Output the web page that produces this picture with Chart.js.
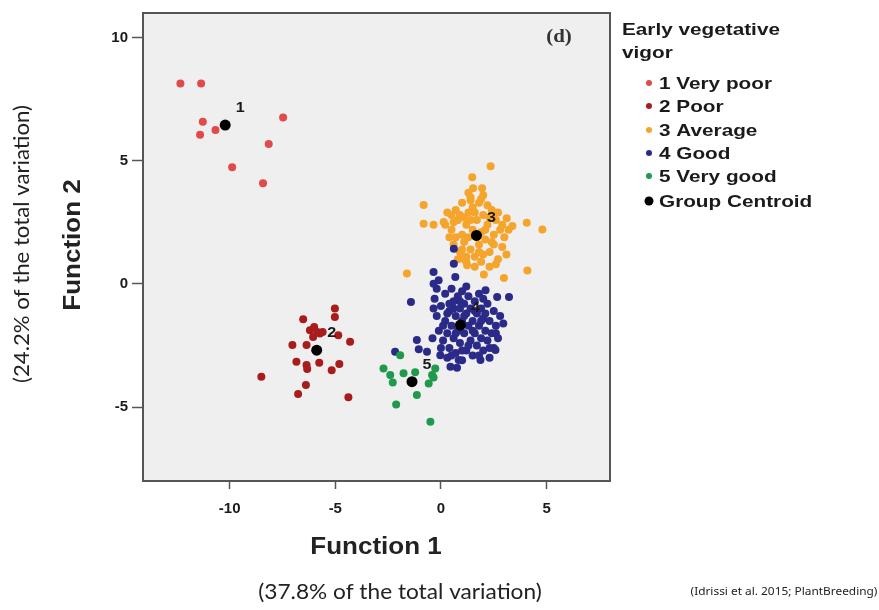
<!DOCTYPE html>
<html>
<head>
<meta charset="utf-8">
<script src="https://cdn.jsdelivr.net/npm/chart.js@4.4.1/dist/chart.umd.min.js"></script>
<style>
  html, body { margin: 0; padding: 0; background: #fff; }
  #wrap { position: relative; width: 879px; height: 610px; }
</style>
</head>
<body>
<div id="wrap"><canvas id="myChart" width="879" height="610"></canvas></div>
<script>
// Datos (Function 1 = x, Function 2 = y)
const xTicks = [-10, -5, 0, 5]
const yTicks = [-5, 0, 5, 10]

const grupos = ["1 Very poor", "2 Poor", "3 Average", "4 Good", "5 Very good"]
const colores = ["#e04a4a", "#a81c1c", "#f5a42c", "#2b2a88", "#1f9a4c"]

// 1 Very poor
const muyPobreX = [-12.33, -11.35, -11.27, -11.40, -10.67, -7.47, -8.15, -9.88, -8.42]
const muyPobreY = [8.14, 8.14, 6.59, 6.06, 6.25, 6.76, 5.68, 4.74, 4.09]

// 2 Poor
const pobreX = [-8.50, -7.03, -6.52, -5.02, -5.02, -6.20, -6.00, -5.73, -6.36, -4.86, -4.30, -6.84, -6.36, -6.33, -5.76, -5.17, -4.81, -6.39, -6.76, -4.38, -5.85, -6.05, -5.60]
const pobreY = [-3.77, -2.48, -1.43, -1.00, -1.34, -1.88, -1.75, -2.01, -2.48, -2.08, -2.35, -3.16, -3.29, -3.45, -3.20, -3.50, -3.25, -4.10, -4.47, -4.60, -1.95, -2.15, -1.95]

// 3 Average
const promedioX = [0.3, 0.5, 0.6, 0.7, 0.8, 0.9, 1.0, 1.0, 1.1, 1.2, 1.2, 1.3, 1.4, 1.5, 1.5, 1.6, 1.7, 1.8, 1.8, 1.9, 2.0, 2.0, 2.1, 2.2, 2.3, 2.4, 2.5, 2.5, 2.6, 2.7, 2.8, 2.9, 3.0, 3.1, 0.4, 0.9, 1.3, 2.2, 1.6, 0.8, 3.2, 2.6, 1.9, 1.1, 0.2, 2.3, 1.4,
  0.6, 1.0, 1.4, 1.7, 2.1, 2.4, 1.6, 2.0, 0.7, 2.7, 1.2, 2.9, 1.8, 0.5, 2.3, 1.3,
  2.35, 1.48, 1.52, 1.95, 1.40, 1.90, -0.82, -0.82, -0.35, 0.13, 3.11, 3.38, 4.06, 4.80, -1.61, 4.09, 2.03, 2.98, 1.24, 1.08]
const promedioY = [2.9, 2.2, 1.6, 3.0, 2.6, 1.3, 2.0, 3.3, 1.7, 2.4, 0.9, 2.9, 1.4, 2.2, 3.1, 1.1, 2.6, 1.6, 3.3, 2.1, 1.2, 2.8, 1.8, 2.4, 1.3, 3.0, 2.0, 1.6, 2.6, 1.0, 2.2, 1.5, 1.9, 1.2, 1.9, 2.8, 1.9, 3.2, 0.7, 1.0, 2.2, 0.8, 0.9, 2.7, 2.4, 2.7, 3.4,
  2.5, 1.4, 2.6, 1.9, 2.2, 1.7, 2.9, 3.6, 1.9, 2.9, 1.1, 2.4, 1.3, 2.8, 0.7, 3.7,
  4.78, 4.33, 3.89, 3.89, 3.52, 3.45, 3.21, 2.44, 2.40, 2.51, 2.67, 2.35, 2.48, 2.21, 0.42, 0.55, 0.38, 0.24, 0.76, 1.02]

// 4 Good
const buenoX = [-0.3, -0.2, -0.1, 0.0, 0.1, 0.2, 0.2, 0.3, 0.4, 0.4, 0.5, 0.5, 0.6, 0.6, 0.7, 0.7, 0.8, 0.8, 0.9, 0.9, 1.0, 1.0, 1.1, 1.1, 1.2, 1.2, 1.3, 1.3, 1.4, 1.4, 1.5, 1.5, 1.6, 1.6, 1.7, 1.7, 1.8, 1.8, 1.9, 1.9, 2.0, 2.0, 2.1, 2.2, 2.2, 2.3, 2.4, 2.5, 2.5, 2.6, 2.7, 2.8, 0.3, 0.0, -0.4, 1.0, 2.3, 0.6, 1.2, -0.2,
  0.3, 0.7, 1.1, 1.5, 1.9, 2.3, 0.5, 1.3, 2.1, 0.9, 1.6, 2.6, 0.1, 1.0, 1.8, 2.0, 0.4,
  -1.42, -0.35, 0.68, 0.61, 0.61, -0.11, 2.66, 3.22, 2.11, -1.14, -2.17, -0.66, -0.03, 0.84, 0.45, 0.76, 1.87, 2.58, 2.95, -0.35, -0.35, -1.05]
const buenoY = [-0.6, -1.3, -1.9, -0.9, -2.3, -0.4, -1.5, -2.0, -1.1, -2.6, -0.2, -1.7, -0.7, -2.2, -1.3, -2.8, -0.5, -1.9, -1.0, -2.4, -0.3, -1.5, -2.0, -0.8, -2.7, -1.2, -1.7, -0.5, -2.3, -1.0, -1.5, -2.9, -0.7, -2.0, -1.2, -2.5, -1.7, -0.4, -2.2, -1.0, -1.4, -2.7, -1.9, -0.8, -2.3, -1.5, -2.0, -1.1, -2.6, -1.7, -2.2, -1.3, -3.0, -2.6, -2.2, -3.1, -3.0, -1.0, -0.1, -0.2,
  -1.2, -2.0, -1.3, -1.9, -1.5, -2.6, -2.9, -2.5, -1.2, -0.7, -1.1, -2.0, -1.7, -2.7, -2.9, -0.6, -0.8,
  -0.73, 0.49, 0.28, 0.82, 1.43, 0.15, -0.53, -0.53, -0.26, -2.28, -2.75, -2.75, -2.89, -3.09, -3.36, -3.40, -3.09, -2.68, -1.61, -1.00, 0.01, -2.65]

// 5 Very good
const muyBuenoX = [-2.72, -2.40, -2.28, -1.93, -1.77, -1.22, -1.14, -2.12, -0.50, -0.58, -0.42, -0.27, -0.35]
const muyBuenoY = [-3.43, -3.70, -4.00, -2.89, -3.63, -3.59, -4.51, -4.89, -5.59, -4.04, -3.70, -3.43, -3.80]

// Centroides
const centroX = [-10.21, -5.88, 1.68, 0.92, -1.37]
const centroY = [6.45, -2.69, 1.97, -1.67, -3.97]
const centroLabels = ["1", "2", "3", "4", "5"]

const puntos = (xs, ys) => xs.map((x, i) => ({ x: x, y: ys[i] }))

const seriesX = [muyPobreX, pobreX, promedioX, buenoX, muyBuenoX]
const seriesY = [muyPobreY, pobreY, promedioY, buenoY, muyBuenoY]

const datasets = grupos.map((g, i) => ({
  label: g,
  data: puntos(seriesX[i], seriesY[i]),
  backgroundColor: colores[i],
  borderWidth: 0,
  pointRadius: 4,
  order: 5 - i
}))
datasets.push({
  label: "Group Centroid",
  data: puntos(centroX, centroY),
  backgroundColor: "#000",
  borderWidth: 0,
  pointRadius: 5.5,
  order: 0
})

// texto estirado a lo ancho (el original esta ensanchado)
function texto(ctx, t, x, y, sx, rot) {
  ctx.save()
  ctx.translate(x, y)
  if (rot) ctx.rotate(rot)
  ctx.scale(sx, 1)
  ctx.fillText(t, 0, 0)
  ctx.restore()
}

// Fondo, marco, textos y leyenda
const dibujos = {
  id: 'dibujos',
  beforeDraw(chart) {
    const { ctx, chartArea: a } = chart
    ctx.save()
    ctx.fillStyle = '#efefef'
    ctx.fillRect(a.left, a.top, a.right - a.left, a.bottom - a.top)
    ctx.restore()
  },
  afterDatasetsDraw(chart) {
    const { ctx, scales } = chart
    ctx.save()
    ctx.font = "bold 14px 'Liberation Sans', Arial, sans-serif"
    ctx.fillStyle = '#1a1a1a'
    ctx.textAlign = 'center'
    ctx.textBaseline = 'middle'
    centroLabels.forEach((t, i) => {
      const px = scales.x.getPixelForValue(centroX[i])
      const py = scales.y.getPixelForValue(centroY[i])
      texto(ctx, t, px + 15, py - 17, 1.15)
    })
    ctx.restore()
  },
  afterDraw(chart) {
    const { ctx, chartArea: a } = chart
    ctx.save()
    ctx.strokeStyle = '#555'
    ctx.lineWidth = 2
    ctx.strokeRect(a.left, a.top, a.right - a.left, a.bottom - a.top)

    // (d)
    ctx.fillStyle = '#333'
    ctx.font = "bold 19px 'Liberation Serif', serif"
    ctx.textAlign = 'center'
    ctx.textBaseline = 'middle'
    texto(ctx, '(d)', 559, 37, 1.1)

    // titulos de ejes
    ctx.fillStyle = '#222'
    ctx.font = "bold 23px 'Liberation Sans', Arial, sans-serif"
    texto(ctx, 'Function 1', 376, 548, 1.13)
    texto(ctx, 'Function 2', 74, 245, 1.13, -Math.PI / 2)

    ctx.font = "22px Lato, 'Open Sans', sans-serif"
    texto(ctx, '(37.8% of the total variation)', 400, 592, 1.03)
    texto(ctx, '(24.2% of the total variation)', 22, 244, 1.01, -Math.PI / 2)

    ctx.font = "11px 'Noto Sans', sans-serif"
    texto(ctx, '(Idrissi et al. 2015; PlantBreeding)', 784, 592, 1.08)

    // leyenda
    ctx.textAlign = 'left'
    ctx.font = "bold 17px 'Liberation Sans', Arial, sans-serif"
    ctx.fillStyle = '#1a1a1a'
    texto(ctx, 'Early vegetative', 622, 30, 1.22)
    texto(ctx, 'vigor', 622, 53, 1.22)
    const filas = [84, 107, 131, 154, 177, 202]
    const etiquetas = grupos.concat(['Group Centroid'])
    const col = colores.concat(['#000'])
    etiquetas.forEach((t, i) => {
      ctx.beginPath()
      ctx.fillStyle = col[i]
      ctx.arc(649, filas[i] - 1, i === 5 ? 4.5 : 3, 0, Math.PI * 2)
      ctx.fill()
      ctx.fillStyle = '#1a1a1a'
      texto(ctx, t, 659, filas[i], 1.22)
    })
    ctx.restore()
  }
}

const ctx = document.getElementById('myChart')

new Chart(ctx, {
  type: 'scatter',
  data: { datasets: datasets },
  options: {
    responsive: false,
    animation: false,
    layout: { padding: { top: 11, right: 269, bottom: 0, left: 0 } },
    plugins: {
      legend: { display: false },
      tooltip: { enabled: false }
    },
    scales: {
      x: {
        type: 'linear',
        min: -14.1,
        max: 8.0,
        afterFit: scale => { scale.height = 129 },
        afterBuildTicks: scale => { scale.ticks = xTicks.map(v => ({ value: v })) },
        border: { display: false },
        grid: { drawOnChartArea: false, drawTicks: true, tickLength: 8, tickColor: '#555', tickWidth: 1.5 },
        ticks: { padding: 11, color: '#1a1a1a', font: { family: "'Liberation Sans', Arial", weight: 'bold', size: 15 } }
      },
      y: {
        type: 'linear',
        min: -8,
        max: 11,
        afterFit: scale => { scale.width = 143 },
        afterBuildTicks: scale => { scale.ticks = yTicks.map(v => ({ value: v })) },
        border: { display: false },
        grid: { drawOnChartArea: false, drawTicks: true, tickLength: 11, tickColor: '#555', tickWidth: 1.5 },
        ticks: { padding: 4, color: '#1a1a1a', font: { family: "'Liberation Sans', Arial", weight: 'bold', size: 15 } }
      }
    }
  },
  plugins: [dibujos]
})
</script>
</body>
</html>
